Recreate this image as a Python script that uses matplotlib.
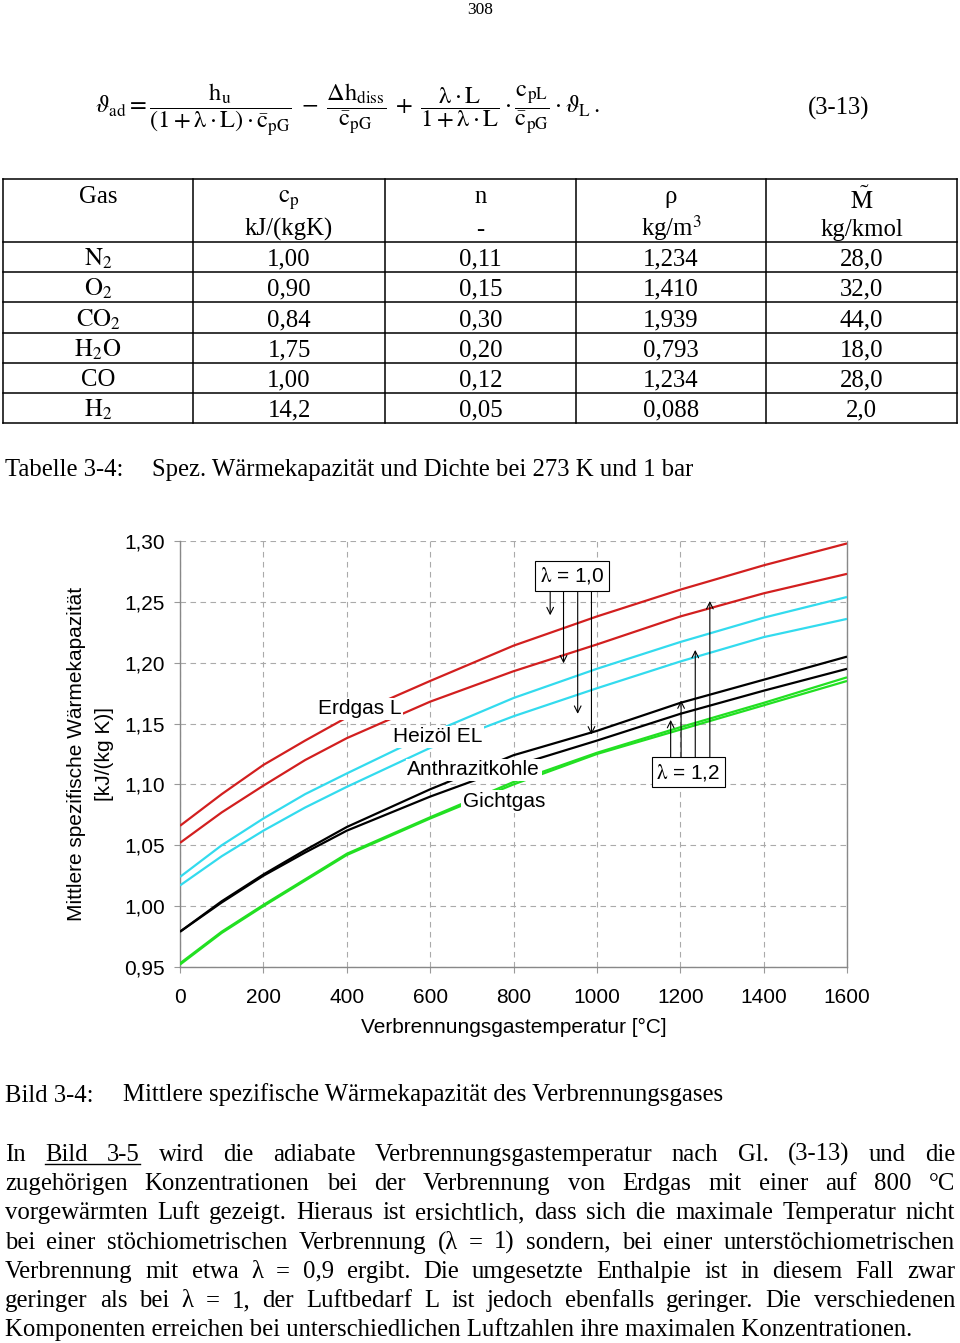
import matplotlib
matplotlib.use('Agg')
import matplotlib.pyplot as plt

# ---------------- data ----------------
temps = [0, 100, 200, 300, 400, 600, 800, 1000, 1200, 1400, 1600]
erdgas_l10 = [1.066, 1.092, 1.116, 1.136, 1.155, 1.185, 1.214, 1.238, 1.260, 1.280, 1.298]
erdgas_l12 = [1.052, 1.077, 1.099, 1.120, 1.138, 1.168, 1.193, 1.215, 1.238, 1.257, 1.273]
heizoel_l10 = [1.024, 1.050, 1.072, 1.092, 1.109, 1.142, 1.171, 1.195, 1.217, 1.237, 1.254]
heizoel_l12 = [1.017, 1.041, 1.062, 1.081, 1.098, 1.130, 1.156, 1.179, 1.201, 1.221, 1.236]
anthrazit_l10 = [0.979, 1.004, 1.026, 1.046, 1.065, 1.096, 1.124, 1.144, 1.167, 1.186, 1.205]
anthrazit_l12 = [0.979, 1.003, 1.025, 1.044, 1.062, 1.090, 1.115, 1.136, 1.158, 1.177, 1.195]
gicht_l10 = [0.953, 0.979, 1.001, 1.022, 1.043, 1.073, 1.102, 1.126, 1.147, 1.167, 1.188]
gicht_l12 = [0.952, 0.978, 1.000, 1.021, 1.042, 1.072, 1.100, 1.125, 1.145, 1.165, 1.185]

xticks = [0, 200, 400, 600, 800, 1000, 1200, 1400, 1600]
xtick_labels = ['0', '200', '400', '600', '800', '1000', '1200', '1400', '1600']
yticks = [0.95, 1.00, 1.05, 1.10, 1.15, 1.20, 1.25, 1.30]
ytick_labels = ['0,95', '1,00', '1,05', '1,10', '1,15', '1,20', '1,25', '1,30']

fuel_labels = ['Erdgas L', 'Heizöl EL', 'Anthrazitkohle', 'Gichtgas']

table_header1 = ['Gas', r'$\mathrm{c}_{\mathrm{p}}$', 'n', 'ρ', r'$\tilde{\mathrm{M}}$']
table_header2 = ['', 'kJ/(kgK)', '-', r'kg/m$^{3}$', 'kg/kmol']
gases = [r'$\mathrm{N_2}$', r'$\mathrm{O_2}$', r'$\mathrm{CO_2}$', r'$\mathrm{H_2O}$', 'CO', r'$\mathrm{H_2}$']
cp_vals = ['1,00', '0,90', '0,84', '1,75', '1,00', '14,2']
n_vals = ['0,11', '0,15', '0,30', '0,20', '0,12', '0,05']
rho_vals = ['1,234', '1,410', '1,939', '0,793', '1,234', '0,088']
m_vals = ['28,0', '32,0', '44,0', '18,0', '28,0', '2,0']

para_lines = [
    "In Bild 3-5 wird die adiabate Verbrennungsgastemperatur nach Gl. (3-13) und die",
    "zugehörigen Konzentrationen bei der Verbrennung von Erdgas mit einer auf 800 °C",
    "vorgewärmten Luft gezeigt. Hieraus ist ersichtlich, dass sich die maximale Temperatur nicht",
    "bei einer stöchiometrischen Verbrennung (λ = 1) sondern, bei einer unterstöchiometrischen",
    "Verbrennung mit etwa λ = 0,9 ergibt. Die umgesetzte Enthalpie ist in diesem Fall zwar",
    "geringer als bei λ = 1, der Luftbedarf L ist jedoch ebenfalls geringer. Die verschiedenen",
    "Komponenten erreichen bei unterschiedlichen Luftzahlen ihre maximalen Konzentrationen.",
]

# ---------------- setup ----------------
SERIF = ['Liberation Serif', 'DejaVu Serif']
SANS = ['Liberation Sans', 'DejaVu Sans']
plt.rcParams['font.family'] = SANS
plt.rcParams['mathtext.fontset'] = 'stix'

W, H = 960, 1343
BODY = 17.8
CH = 15

fig = plt.figure(figsize=(W / 100, H / 100), dpi=100)
fig.patch.set_facecolor('white')
pg = fig.add_axes([0, 0, 1, 1])
pg.set_xlim(0, W)
pg.set_ylim(H, 0)
pg.axis('off')
rend = fig.canvas.get_renderer()

# page number
pg.text(480, 14, '308', family=SERIF, fontsize=12.5, ha='center', va='baseline')

# formula
formula = (r'$\vartheta_{\mathrm{ad}} = \dfrac{\mathrm{h}_{\mathrm{u}}}'
           r'{\left(1+\mathrm{λ}\cdot\mathrm{L}\right)\cdot\bar{\mathrm{c}}_{\mathrm{pG}}}'
           r'\;-\;\dfrac{\Delta\mathrm{h}_{\mathrm{diss}}}{\bar{\mathrm{c}}_{\mathrm{pG}}}'
           r'\;+\;\dfrac{\mathrm{λ}\cdot\mathrm{L}}{1+\mathrm{λ}\cdot\mathrm{L}}\cdot'
           r'\dfrac{\mathrm{c}_{\mathrm{pL}}}{\bar{\mathrm{c}}_{\mathrm{pG}}}\cdot\vartheta_{\mathrm{L}}\,.$')
pg.text(95, 110, formula, fontsize=17.6, ha='left', va='center')
pg.text(839, 108, '(3-13)', family=SERIF, fontsize=BODY, ha='center', va='center')

# table
col_edges = [3, 193, 385, 576, 766, 957]
row_edges = [179, 242, 272, 302, 333, 363, 393, 423]
lw_t = 1.1
for y in row_edges:
    pg.plot([col_edges[0], col_edges[-1]], [y, y], color='black', lw=lw_t)
for x in col_edges:
    pg.plot([x, x], [row_edges[0], row_edges[-1]], color='black', lw=lw_t)
col_c = [(col_edges[i] + col_edges[i + 1]) / 2 for i in range(5)]
head_base = [203, 203, 203, 203, 209]
for i in range(5):
    pg.text(col_c[i], head_base[i], table_header1[i], family=SERIF, fontsize=BODY, ha='center', va='baseline')
    if table_header2[i]:
        pg.text(col_c[i], 236, table_header2[i], family=SERIF, fontsize=BODY, ha='center', va='baseline')
cols = [gases, cp_vals, n_vals, rho_vals, m_vals]
for r in range(6):
    yb = (row_edges[r + 1] + row_edges[r + 2]) / 2 + 8.5
    for c in range(5):
        pg.text(col_c[c], yb, cols[c][r], family=SERIF, fontsize=BODY, ha='center', va='baseline')

# table caption
pg.text(5, 476, 'Tabelle 3-4:', family=SERIF, fontsize=BODY, va='baseline')
pg.text(152, 476, 'Spez. Wärmekapazität und Dichte bei 273 K und 1 bar', family=SERIF, fontsize=BODY, va='baseline')

# figure caption
pg.text(5, 1101.5, 'Bild 3-4:', family=SERIF, fontsize=BODY, va='baseline')
pg.text(123, 1101.5, 'Mittlere spezifische Wärmekapazität des Verbrennungsgases', family=SERIF, fontsize=BODY, va='baseline')

# paragraph (justified)
para_base = [1161, 1190.2, 1219.4, 1248.6, 1277.8, 1307, 1336]
for li, (line, yb) in enumerate(zip(para_lines, para_base)):
    if li == len(para_lines) - 1:
        pg.text(5, yb, line, family=SERIF, fontsize=BODY, va='baseline')
        continue
    words = line.split(' ')
    ts = [pg.text(0, yb, w, family=SERIF, fontsize=BODY, va='baseline') for w in words]
    ws = [t.get_window_extent(renderer=rend).width for t in ts]
    gap = (955 - 5 - sum(ws)) / (len(words) - 1)
    x = 5
    xs = []
    for t, w in zip(ts, ws):
        t.set_x(x)
        xs.append(x)
        x += w + gap
    if li == 0:
        pg.plot([xs[1], xs[2] + ws[2]], [yb + 3, yb + 3], color='black', lw=1.0)

# y label & x label of chart
pg.text(77, 754, 'Mittlere spezifische Wärmekapazität', rotation=90, ha='center', va='center', fontsize=CH)
pg.text(104, 754, '[kJ/(kg K)]', rotation=90, ha='center', va='center', fontsize=CH)
pg.text(513.5, 1027, 'Verbrennungsgastemperatur [°C]', ha='center', va='center', fontsize=CH)

# ---------------- chart ----------------
ax = fig.add_axes([180 / W, 1 - 967 / H, (847 - 180) / W, (967 - 541) / H])
ax.set_xlim(0, 1600)
ax.set_ylim(0.95, 1.30)
ax.set_xticks(xticks)
ax.set_xticklabels(xtick_labels)
ax.set_yticks(yticks)
ax.set_yticklabels(ytick_labels)
ax.tick_params(length=4, width=0.8, color='#999999', labelsize=CH)
ax.tick_params(axis='x', pad=11)
ax.tick_params(axis='y', pad=7)
ax.grid(True, color='#aaaaaa', lw=0.8, linestyle=(0, (5, 4)))
ax.set_axisbelow(True)
for s in ['left', 'bottom', 'right']:
    ax.spines[s].set_color('#888888')
    ax.spines[s].set_linewidth(1.0)
ax.spines['top'].set_visible(False)

RED, CYAN, BLACK, GREEN = '#d21f1f', '#33dbee', '#000000', '#22e022'
series = [(erdgas_l10, RED), (erdgas_l12, RED), (heizoel_l10, CYAN), (heizoel_l12, CYAN),
          (anthrazit_l10, BLACK), (anthrazit_l12, BLACK), (gicht_l10, GREEN), (gicht_l12, GREEN)]
for ys, col in series:
    ax.plot(temps, ys, color=col, lw=1.6, solid_capstyle='butt', solid_joinstyle='round', zorder=3)

lbl_pos = [(331, 1.162), (511, 1.139), (545, 1.112), (679, 1.086)]
for txt, (x, y) in zip(fuel_labels, lbl_pos):
    ax.text(x, y, txt, fontsize=CH, ha='left', va='center', zorder=5,
            bbox=dict(boxstyle='square,pad=0.08', fc='white', ec='none'))

# lambda annotations
box = dict(boxstyle='square,pad=0.22', fc='white', ec='black', lw=0.8)
ax.text(940, 1.2715, r'$\mathrm{λ}$ = 1,0', fontsize=CH, ha='center', va='center', bbox=box, zorder=6)
ax.text(1219, 1.110, r'$\mathrm{λ}$ = 1,2', fontsize=CH, ha='center', va='center', bbox=box, zorder=6)
arr = dict(arrowstyle='->', lw=0.8, color='black', shrinkA=0, shrinkB=0, mutation_scale=12)
for x, yt in zip([888, 920, 954, 987], [1.239, 1.1995, 1.158, 1.141]):
    ax.annotate('', xy=(x, yt), xytext=(x, 1.260), arrowprops=arr, zorder=4)
for x, yt in zip([1177, 1202, 1236, 1271], [1.153, 1.169, 1.2105, 1.2507]):
    ax.annotate('', xy=(x, yt), xytext=(x, 1.122), arrowprops=arr, zorder=4)

fig.savefig('out.png', dpi=100, facecolor='white')
